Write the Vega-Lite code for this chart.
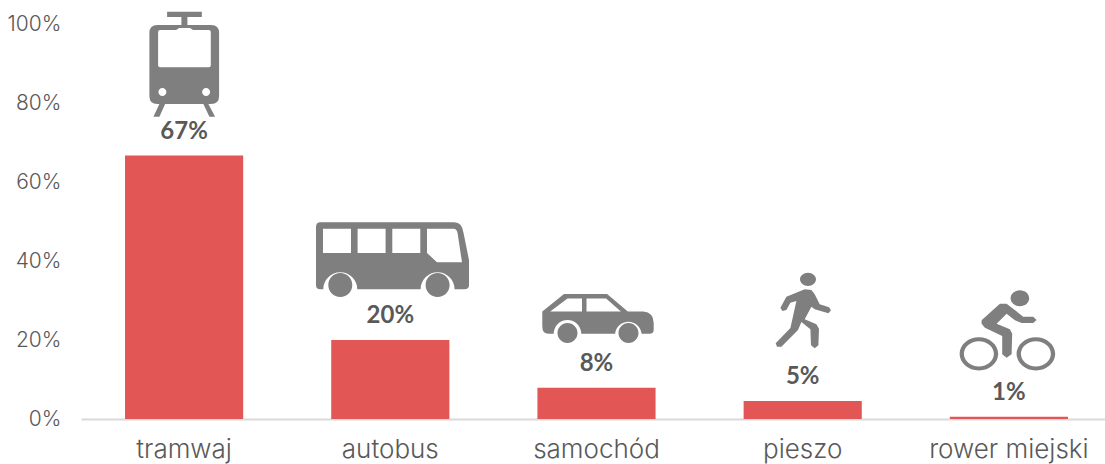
{
"$schema":"https://vega.github.io/schema/vega-lite/v6.json",
"width":1031,"height":395,
"autosize":"none",
"padding":{"left":81,"top":24,"right":0,"bottom":45},
"background":"white",
"config":{"view":{"stroke":null},"font":"Inter"},
"data":{"values":[
{"mode":"tramwaj","share":0.667},
{"mode":"autobus","share":0.2},
{"mode":"samochód","share":0.079},
{"mode":"pieszo","share":0.0455},
{"mode":"rower miejski","share":0.0055}
]},
"encoding":{
"x":{"field":"mode","type":"nominal","sort":null,"title":null,"scale":{"paddingInner":0.427,"paddingOuter":0.2135},
"axis":{"labelAngle":0,"ticks":false,"domainColor":"#d9d9d9","domainWidth":2,"labelColor":"#595959","labelFont":"Inter","labelFontWeight":300,"labelFontSize":26,"labelPadding":17,"labelLimit":300}},
"y":{"field":"share","type":"quantitative","title":null,"scale":{"domain":[0,1],"nice":false},
"axis":{"values":[0,0.2,0.4,0.6,0.8,1],"format":".0%","grid":false,"domain":false,"ticks":false,"labelColor":"#595959","labelFont":"Inter","labelFontWeight":300,"labelFontSize":21,"labelPadding":20}}
},
"layer":[
{"mark":{"type":"bar","color":"#e25656"}},
{"mark":{"type":"text","dy":-24,"fontSize":24,"fontWeight":"bold","color":"#595959","font":"Lato"},"encoding":{"text":{"field":"share","format":".0%"}}},
{"transform":[{"filter":"datum.mode==='tramwaj'"}],"mark":{"type":"point","filled":true,"opacity":1,"color":"#7f7f7f","strokeWidth":0,"size":4,
"shape":"M-17,-143.8H17.7V-138.5H3.3V-130.5H27Q35,-130.5 35,-122.5V-59.5Q35,-51.5 27,-51.5H24.3L31,-38.8H25.3L19.3,-51.5H-19L-24.7,-38.8H-30.7L-24.7,-51.5H-26.7Q-34.7,-51.5 -34.7,-59.5V-122.5Q-34.7,-130.5 -26.7,-130.5H-2.7V-138.5H-17ZM-24,-125.5Q-26,-125.5 -26,-123.5V-90.2Q-26,-88.2 -24,-88.2H24.7Q26.7,-88.2 26.7,-90.2V-123.5Q26.7,-125.5 24.7,-125.5H9L6,-127.5H-5L-8,-125.5ZM-25.7,-63.5A4,4 0 0 0 -17.7,-63.5A4,4 0 0 0 -25.7,-63.5ZM18,-63.5A4,4 0 0 0 26,-63.5A4,4 0 0 0 18,-63.5Z"}},
{"transform":[{"filter":"datum.mode==='autobus'"}],"mark":{"type":"point","filled":true,"opacity":1,"color":"#7f7f7f","strokeWidth":0,"size":4,
"shape":"M-70,-117.7H64Q72,-117.7 73.3,-106.7L78.7,-80V-55Q78.7,-50.7 74,-50.7H64.3A17,17 0 0 0 30.3,-50.7H-33A17,17 0 0 0 -67,-50.7H-70Q-74.3,-50.7 -74.3,-55V-113Q-74.3,-117.7 -70,-117.7ZM-67.3,-111.3V-87H-39.3V-111.3ZM-32.7,-111.3V-87H-4.7V-111.3ZM2,-111.3V-87H30V-111.3ZM36.7,-111.3V-87L46.7,-77.7H71.7L67.3,-106.7Q66.5,-111.3 63.3,-111.3ZM-62,-55A12,12 0 0 0 -38,-55A12,12 0 0 0 -62,-55ZM35.3,-55A12,12 0 0 0 59.3,-55A12,12 0 0 0 35.3,-55Z"}},
{"transform":[{"filter":"datum.mode==='samochód'"}],"mark":{"type":"point","filled":true,"opacity":1,"color":"#7f7f7f","strokeWidth":0,"size":4,
"shape":"M-54.2,-76.3L-32.5,-93.7H10.6L31.3,-76.3H46.8Q57.2,-75.3 57.2,-64.7V-58Q57.2,-54 53,-54H45.1A13.3,13.3 0 0 0 18.6,-54H-15.2A13.8,13.8 0 0 0 -42.8,-54H-48Q-54.2,-54 -54.2,-61.3ZM-46.3,-76.3H-14.5V-89.3H-29ZM-10,-76.3H24.4L9.6,-89.3H-10ZM-39,-54.7A10,10 0 0 0 -19,-54.7A10,10 0 0 0 -39,-54.7ZM22,-54.7A10,10 0 0 0 42,-54.7A10,10 0 0 0 22,-54.7Z"}},
{"transform":[{"filter":"datum.mode==='pieszo'"}],"mark":{"type":"point","filled":true,"opacity":1,"color":"#7f7f7f","strokeWidth":0,"size":4,
"shape":"M-2.7,-121.7A8,6.7 0 0 1 13.3,-121.7A8,6.7 0 0 1 -2.7,-121.7ZM-16.3,-104.4L2,-111.7L8.7,-111L12,-106.7L17,-96.7L26.3,-93.7L28.3,-90.7L25.7,-87.7L12,-91.7L8.7,-94.4L2,-81.7L13.7,-76.7L16.3,-72.4L15.7,-55.7L12,-52.7L8.3,-55.7L7.7,-71.7L-1.3,-79L-4.7,-71L-21.3,-54.4L-25.7,-54.4L-27,-57.7L-12.3,-73L-6.3,-100L-12.3,-98.4L-16.3,-91L-20.3,-90L-22.3,-93.4Z"}},
{"transform":[{"filter":"datum.mode==='rower miejski'"}],"mark":{"type":"point","filled":true,"opacity":1,"color":"#7f7f7f","strokeWidth":0,"size":4,
"shape":"M1.7,-118.5A9.3,8 0 0 1 20.3,-118.5A9.3,8 0 0 1 1.7,-118.5ZM-27.3,-96.5L-9,-113.2H-2.3L14.3,-100.2H24.3L27.7,-96.8L24.3,-93.8H12.7L6,-96.5L-2.3,-103.2L-12.3,-93.2L1,-87.5L3.3,-83.2L2.7,-62.5L-2.3,-59.2L-6.7,-62.5V-80.8L-24,-89.2L-27.3,-93.2ZM-49.3,-63A19.3,16.7 0 0 1 -10.7,-63A19.3,16.7 0 0 1 -49.3,-63ZM-45,-63A15,12.7 0 0 0 -15,-63A15,12.7 0 0 0 -45,-63ZM7.7,-63A19.3,16.7 0 0 1 46.3,-63A19.3,16.7 0 0 1 7.7,-63ZM12,-63A15,12.7 0 0 0 42,-63A15,12.7 0 0 0 12,-63Z"}}
]
}
